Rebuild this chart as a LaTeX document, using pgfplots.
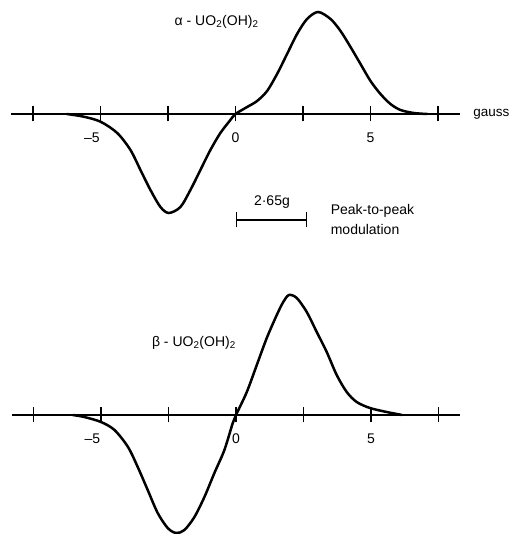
\documentclass[border=0pt]{standalone}
\usepackage{fontspec}
\setmainfont{Liberation Sans}
\usepackage{pgfplots}
\pgfplotsset{compat=1.18}
\usetikzlibrary{arrows.meta}

\pgfplotstableread{
x y
-6.25 0
-5.62 -2.7
-5.00 -7.7
-4.38 -19
-3.89 -36
-3.52 -56
-3.15 -76
-2.78 -93
-2.47 -99
-2.04 -93
-1.67 -76
-1.30 -56
-0.93 -36
-0.56 -19
-0.19 -6
0.00 0
0.43 7
0.80 13
1.17 23
1.54 40
1.91 60
2.28 80
2.65 95
3.06 102
3.52 95
3.89 83
4.26 67
4.63 50
5.00 33
5.37 20
5.74 10
6.11 4
6.60 1
7.10 0
}\alphatab

\pgfplotstableread{
x y
-6.05 0
-5.62 -2
-5.00 -7
-4.50 -15
-4.00 -32
-3.64 -52
-3.27 -75
-2.90 -98
-2.53 -113
-2.22 -118
-1.91 -115
-1.54 -102
-1.17 -82
-0.80 -58
-0.43 -35
-0.12 -8
0.00 0
0.40 23
0.77 50
1.14 77
1.51 100
1.75 113
1.96 120
2.25 117
2.62 103
2.99 83
3.36 63
3.73 40
4.10 23
4.47 13
4.96 7
5.58 3
6.15 0
}\betatab

\newcommand{\lbl}{\fontsize{14bp}{17bp}\selectfont}

\pgfplotsset{
  esr/.style={
    anchor=origin, x=27bp, y=1bp,
    xmin=-8.3, xmax=8.3, ymin=-120, ymax=125,
    axis x line*=middle, axis y line=none,
    clip=false,
    xtick={-7.5,-5,...,7.5},
    xticklabels={{},{–5\hspace*{17bp}},{},{0},{},{5},{}},
    major tick length=15bp, tick align=center,
    hide obscured x ticks=false,
    tick style={black, line width=1.2bp},
    axis line style={black, line width=1.4bp},
    xticklabel style={font=\lbl, yshift=-8bp},
  }
}

\begin{document}
\begin{tikzpicture}
\useasboundingbox (0,0) rectangle (511bp,534bp);

% alpha form
\begin{axis}[esr, at={(235.5bp,420bp)}]
\addplot[black, line width=2.5bp, smooth] table[x=x, y=y] {\alphatab};
\node[font=\lbl] at (axis cs:-0.7,92) {α - UO\textsubscript{2}(OH)\textsubscript{2}};
\node[font=\fontsize{13.5bp}{16bp}\selectfont, anchor=west, inner sep=0pt] at (axis cs:8.8,0) {gauss};
% modulation bar
\draw[black, line width=1.3bp, {Bar[width=15bp]}-{Bar[width=15bp]}] (axis cs:0,-106) -- (axis cs:2.65,-106);
\node[font=\lbl] at (axis cs:1.35,-88) {2·65g};
\node[anchor=west, align=left, font=\fontsize{14bp}{20bp}\selectfont] at (axis cs:3.4,-106) {Peak-to-peak\\modulation};
\end{axis}

% beta form
\begin{axis}[esr, at={(236bp,119bp)}]
\addplot[black, line width=2.5bp, smooth] table[x=x, y=y] {\betatab};
\node[font=\lbl] at (axis cs:-1.56,72) {β - UO\textsubscript{2}(OH)\textsubscript{2}};
\end{axis}
\end{tikzpicture}
\end{document}
